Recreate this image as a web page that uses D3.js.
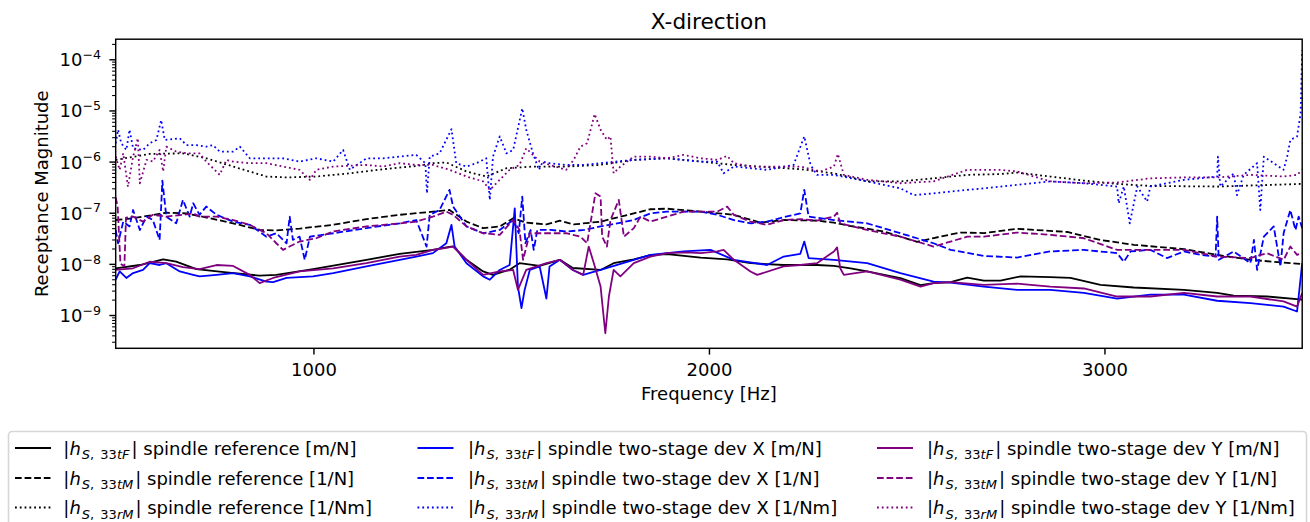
<!DOCTYPE html>
<html>
<head>
<meta charset="utf-8">
<script src="https://cdn.jsdelivr.net/npm/d3@7"></script>
<style>
  body { margin: 0; background: #fff; }
  text { font-family: 'DejaVu Sans', sans-serif; fill: #000; white-space: pre; }
</style>
</head>
<body>
<div id="chart"></div>
<script>
// ---- data: [frequency Hz, receptance] ----

var refTF = [[500, 8.2e-9], [561, 9.5e-9], [620, 1.23e-8], [653, 1.11e-8], [704, 7.9e-9], [780, 6.8e-9], [864, 5.9e-9], [906, 6.1e-9], [999, 7.9e-9], [1134, 1.2e-8], [1218, 1.57e-8], [1302, 1.88e-8], [1336, 2.1e-8], [1353, 2.2e-8], [1387, 1.2e-8], [1429, 7.1e-9], [1454, 6.1e-9], [1496, 7.7e-9], [1521, 1.03e-8], [1572, 9.1e-9], [1623, 1.2e-8], [1656, 8.3e-9], [1726, 7.6e-9], [1759, 1.03e-8], [1810, 1.22e-8], [1852, 1.48e-8], [1894, 1.55e-8], [1979, 1.33e-8], [2046, 1.22e-8], [2105, 1.03e-8], [2189, 9.5e-9], [2273, 9.5e-9], [2316, 9.1e-9], [2358, 8.2e-9], [2400, 7.1e-9], [2484, 5.25e-9], [2535, 3.83e-9], [2568, 4.2e-9], [2611, 4.4e-9], [2653, 5.4e-9], [2695, 4.7e-9], [2737, 4.7e-9], [2788, 5.7e-9], [2863, 5.5e-9], [2914, 5.3e-9], [2990, 3.9e-9], [3074, 3.45e-9], [3201, 3.1e-9], [3285, 2.7e-9], [3327, 2.4e-9], [3411, 2.3e-9], [3500, 2.0e-9]]

var refTM = [[500, 7.2e-8], [544, 7.8e-8], [628, 1.0e-7], [679, 9.7e-8], [738, 7.8e-8], [797, 6.2e-8], [864, 4.6e-8], [906, 4.5e-8], [965, 4.9e-8], [1050, 5.8e-8], [1134, 7.5e-8], [1218, 9.1e-8], [1302, 1.05e-7], [1344, 1.13e-7], [1387, 6.7e-8], [1429, 5.0e-8], [1471, 5.4e-8], [1505, 7.8e-8], [1538, 6.4e-8], [1589, 5.9e-8], [1623, 7.0e-8], [1658, 5.9e-8], [1726, 6.7e-8], [1810, 9.7e-8], [1852, 1.17e-7], [1894, 1.2e-7], [1979, 1.05e-7], [2063, 9.1e-8], [2130, 6.4e-8], [2189, 7.2e-8], [2273, 7.0e-8], [2316, 6.4e-8], [2358, 5.5e-8], [2442, 4.3e-8], [2526, 2.7e-8], [2568, 3.2e-8], [2636, 4.1e-8], [2695, 4.0e-8], [2779, 4.85e-8], [2906, 4.2e-8], [2990, 2.94e-8], [3074, 2.36e-8], [3201, 1.94e-8], [3285, 1.5e-8], [3369, 1.2e-8], [3500, 9.9e-9]]

var refRM = [[500, 1.08e-6], [586, 1.41e-6], [670, 1.45e-6], [729, 1.16e-6], [797, 8.0e-7], [881, 5.1e-7], [932, 4.9e-7], [1007, 5.1e-7], [1092, 5.9e-7], [1176, 7.1e-7], [1260, 8.2e-7], [1302, 9.3e-7], [1336, 9.6e-7], [1387, 6.4e-7], [1437, 5.1e-7], [1488, 7.4e-7], [1555, 8.0e-7], [1639, 8.0e-7], [1724, 8.6e-7], [1810, 1.08e-6], [1894, 1.16e-6], [1979, 1.0e-6], [2063, 8.6e-7], [2147, 7.8e-7], [2231, 7.1e-7], [2316, 5.9e-7], [2400, 4.1e-7], [2484, 4.1e-7], [2568, 4.7e-7], [2653, 5.5e-7], [2737, 5.7e-7], [2779, 6.1e-7], [2863, 5.1e-7], [2948, 4.25e-7], [3032, 3.66e-7], [3116, 3.34e-7], [3285, 3.25e-7], [3500, 3.66e-7]]

var devXTF = [[500, 4.9e-9], [510, 7.1e-9], [527, 5.3e-9], [544, 6.6e-9], [569, 7.6e-9], [586, 1.03e-8], [611, 9.5e-9], [628, 1.03e-8], [662, 7.1e-9], [696, 6.1e-9], [712, 5.7e-9], [755, 6.1e-9], [797, 6.6e-9], [839, 5.7e-9], [881, 4.5e-9], [898, 4.4e-9], [932, 5.3e-9], [999, 5.7e-9], [1050, 6.6e-9], [1134, 8.9e-9], [1218, 1.2e-8], [1260, 1.39e-8], [1302, 1.62e-8], [1336, 2.53e-8], [1349, 5.8e-8], [1357, 2.18e-8], [1387, 1.03e-8], [1429, 5.7e-9], [1446, 4.9e-9], [1471, 7.6e-9], [1496, 9.5e-9], [1509, 1.22e-7], [1517, 3.6e-9], [1526, 1.37e-9], [1534, 3.1e-9], [1547, 7.6e-9], [1572, 8.9e-9], [1589, 2.1e-9], [1597, 8.9e-9], [1623, 1.2e-8], [1656, 7.6e-9], [1682, 6.1e-9], [1726, 7.6e-9], [1810, 1.2e-8], [1852, 1.5e-8], [1894, 1.62e-8], [1936, 1.75e-8], [2004, 1.88e-8], [2063, 1.2e-8], [2147, 9.5e-9], [2189, 1.39e-8], [2231, 1.57e-8], [2241, 2.73e-8], [2252, 1.3e-8], [2316, 1.2e-8], [2400, 1.03e-8], [2484, 6.6e-9], [2568, 4.5e-9], [2611, 4.3e-9], [2695, 3.6e-9], [2779, 3.1e-9], [2863, 3.1e-9], [2948, 2.7e-9], [3032, 2.1e-9], [3116, 2.5e-9], [3201, 2.5e-9], [3285, 1.9e-9], [3369, 1.7e-9], [3453, 1.46e-9], [3487, 1.17e-9], [3500, 1.03e-8]]

var devXTM = [[500, 4.6e-8], [506, 2.53e-8], [519, 6.7e-8], [535, 5.4e-8], [544, 1.13e-7], [561, 4.6e-8], [578, 8.4e-8], [594, 7.2e-8], [611, 2.94e-8], [618, 4.25e-7], [628, 8.4e-8], [653, 6.2e-8], [670, 1.78e-7], [687, 8.4e-8], [696, 1.53e-7], [712, 9.1e-8], [729, 1.32e-7], [755, 9.1e-8], [797, 6.7e-8], [839, 5.8e-8], [881, 3.4e-8], [906, 3.97e-8], [932, 2.53e-8], [940, 8.4e-8], [948, 2.94e-8], [965, 3.4e-8], [978, 1.2e-8], [991, 3.4e-8], [1050, 3.97e-8], [1134, 5.0e-8], [1218, 6.2e-8], [1260, 7.2e-8], [1286, 2.18e-8], [1294, 9.1e-8], [1319, 1.13e-7], [1344, 2.8e-7], [1353, 1.32e-7], [1387, 5.4e-8], [1429, 3.97e-8], [1471, 4.6e-8], [1505, 7.2e-8], [1519, 3.97e-8], [1528, 2.07e-7], [1536, 2.53e-8], [1549, 4.6e-8], [1557, 1.88e-8], [1566, 4.6e-8], [1599, 4.6e-8], [1641, 4.3e-8], [1684, 4.6e-8], [1726, 5.4e-8], [1768, 6.2e-8], [1810, 7.2e-8], [1852, 9.7e-8], [1894, 1.05e-7], [1979, 1.05e-7], [2021, 9.1e-8], [2063, 7.2e-8], [2105, 6.2e-8], [2147, 6.7e-8], [2189, 8.2e-8], [2231, 9.7e-8], [2241, 2.8e-7], [2252, 8.4e-8], [2316, 7.2e-8], [2400, 6.2e-8], [2484, 3.97e-8], [2568, 2.53e-8], [2611, 1.88e-8], [2695, 1.43e-8], [2779, 1.33e-8], [2863, 1.75e-8], [2948, 1.88e-8], [3032, 1.62e-8], [3049, 1.1e-8], [3066, 1.75e-8], [3116, 1.88e-8], [3158, 1.3e-8], [3201, 1.75e-8], [3243, 1.5e-8], [3281, 1.39e-8], [3285, 8.4e-8], [3289, 1.2e-8], [3327, 1.75e-8], [3369, 1.03e-8], [3378, 2.94e-8], [3386, 7.6e-9], [3403, 3.4e-8], [3428, 5.4e-8], [3445, 8.9e-9], [3453, 3.97e-8], [3470, 1.13e-7], [3483, 4.6e-8], [3491, 8.4e-8], [3500, 5.0e-8]]

var devXRM = [[500, 2.28e-6], [506, 4.2e-6], [514, 2.28e-6], [527, 1.69e-6], [535, 4.2e-6], [544, 1.82e-6], [569, 1.69e-6], [586, 2.28e-6], [603, 2.65e-6], [615, 6.5e-6], [624, 2.65e-6], [662, 2.86e-6], [679, 2.1e-6], [704, 2.1e-6], [729, 1.96e-6], [746, 2.1e-6], [763, 1.57e-6], [797, 1.57e-6], [814, 1.96e-6], [839, 1.16e-6], [881, 1.16e-6], [923, 1.16e-6], [965, 1.0e-6], [1007, 1.16e-6], [1050, 1.0e-6], [1075, 1.69e-6], [1092, 6.9e-7], [1134, 1.16e-6], [1176, 1.16e-6], [1218, 1.25e-6], [1260, 1.35e-6], [1283, 9.3e-7], [1287, 2.4e-7], [1294, 1.25e-6], [1319, 1.45e-6], [1349, 4.3e-6], [1361, 9.3e-7], [1387, 8.0e-7], [1412, 9.3e-7], [1437, 1.16e-6], [1446, 1.78e-7], [1454, 1.25e-6], [1471, 3.1e-6], [1488, 1.45e-6], [1505, 1.69e-6], [1528, 1.1e-5], [1538, 4.2e-6], [1555, 1.45e-6], [1570, 6.9e-7], [1580, 1.0e-6], [1597, 9.3e-7], [1639, 8.6e-7], [1682, 8.6e-7], [1724, 9.3e-7], [1810, 1.08e-6], [1894, 1.16e-6], [1979, 1.0e-6], [2021, 1.0e-6], [2037, 5.9e-7], [2063, 8.0e-7], [2147, 6.9e-7], [2214, 8.6e-7], [2241, 3.1e-6], [2257, 8.6e-7], [2273, 5.5e-7], [2316, 5.5e-7], [2400, 4.1e-7], [2484, 3.0e-7], [2518, 2.2e-7], [2568, 2.4e-7], [2611, 2.6e-7], [2695, 3.0e-7], [2779, 3.5e-7], [2863, 4.1e-7], [2948, 3.77e-7], [3032, 3.25e-7], [3036, 1.53e-7], [3049, 3.25e-7], [3064, 6.2e-8], [3083, 3.25e-7], [3108, 1.65e-7], [3116, 3.25e-7], [3201, 4.4e-7], [3285, 5.1e-7], [3287, 1.25e-6], [3293, 3.25e-7], [3327, 5.9e-7], [3335, 2.2e-7], [3352, 5.5e-7], [3386, 9.3e-7], [3394, 1.13e-7], [3403, 1.25e-6], [3453, 6.9e-7], [3462, 1.25e-6], [3470, 2.65e-6], [3487, 3.1e-6], [3496, 8.8e-6], [3500, 1.5e-4]]

var devYTF = [[500, 7.6e-9], [544, 8.2e-9], [586, 1.1e-8], [628, 1.03e-8], [670, 8.6e-9], [712, 7.9e-9], [755, 9.5e-9], [797, 9.1e-9], [839, 6.1e-9], [864, 4.2e-9], [898, 5.3e-9], [965, 7.1e-9], [1050, 8.2e-9], [1134, 1.03e-8], [1218, 1.39e-8], [1260, 1.5e-8], [1302, 1.88e-8], [1328, 2.0e-8], [1353, 2.18e-8], [1387, 1.2e-8], [1429, 6.1e-9], [1471, 7.1e-9], [1505, 7.6e-9], [1517, 3.1e-9], [1538, 7.6e-9], [1589, 1.03e-8], [1623, 1.2e-8], [1656, 7.6e-9], [1682, 6.1e-9], [1696, 2.18e-8], [1709, 1.03e-8], [1726, 3.6e-9], [1738, 4.4e-10], [1747, 2.3e-9], [1759, 7.6e-9], [1776, 5.7e-9], [1810, 1.03e-8], [1852, 1.39e-8], [1894, 1.62e-8], [1945, 1.67e-8], [1979, 1.62e-8], [2021, 1.75e-8], [2037, 1.88e-8], [2063, 1.2e-8], [2105, 7.1e-9], [2122, 6.1e-9], [2189, 8.9e-9], [2231, 9.5e-9], [2273, 1.03e-8], [2316, 1.75e-8], [2324, 2.1e-8], [2332, 8.2e-9], [2341, 6.1e-9], [2400, 7.1e-9], [2484, 4.9e-9], [2535, 3.6e-9], [2568, 4.2e-9], [2611, 4.4e-9], [2695, 3.9e-9], [2779, 4.1e-9], [2863, 3.6e-9], [2948, 3.3e-9], [3032, 2.3e-9], [3116, 2.3e-9], [3201, 2.7e-9], [3285, 2.3e-9], [3369, 2.3e-9], [3453, 1.84e-9], [3487, 1.46e-9], [3500, 2.7e-9]]

var devYTM = [[500, 2.0e-7], [505, 1.3e-7], [512, 1.0e-8], [522, 9.0e-9], [526, 8.0e-8], [544, 8.4e-8], [569, 6.7e-8], [594, 9.1e-8], [628, 8.4e-8], [670, 9.1e-8], [696, 9.7e-8], [712, 8.4e-8], [755, 8.4e-8], [797, 7.2e-8], [839, 5.8e-8], [881, 3.97e-8], [906, 2.53e-8], [923, 1.88e-8], [965, 2.73e-8], [1007, 3.17e-8], [1050, 4.3e-8], [1134, 5.4e-8], [1218, 6.2e-8], [1260, 6.7e-8], [1302, 8.4e-8], [1336, 1.05e-7], [1353, 9.1e-8], [1387, 5.4e-8], [1429, 3.97e-8], [1471, 3.7e-8], [1505, 7.2e-8], [1521, 4.6e-8], [1530, 1.2e-8], [1547, 3.97e-8], [1597, 3.97e-8], [1639, 3.97e-8], [1675, 3.4e-8], [1692, 2.53e-8], [1713, 2.4e-7], [1726, 2.07e-7], [1730, 3.4e-8], [1742, 2.18e-8], [1751, 7.2e-8], [1772, 1.78e-7], [1785, 3.4e-8], [1810, 5.0e-8], [1827, 8.4e-8], [1852, 6.7e-8], [1894, 8.4e-8], [1936, 1.05e-7], [1979, 1.05e-7], [2021, 1.05e-7], [2046, 1.32e-7], [2063, 9.1e-8], [2105, 6.7e-8], [2147, 5.8e-8], [2189, 7.2e-8], [2231, 7.5e-8], [2273, 7.0e-8], [2316, 8.4e-8], [2324, 1.0e-7], [2332, 6.2e-8], [2400, 4.6e-8], [2484, 3.4e-8], [2568, 2.18e-8], [2653, 3.4e-8], [2695, 3.4e-8], [2779, 4.1e-8], [2863, 3.7e-8], [2948, 3.17e-8], [3032, 1.88e-8], [3116, 1.88e-8], [3201, 1.88e-8], [3285, 1.39e-8], [3369, 1.3e-8], [3411, 1.62e-8], [3453, 1.2e-8], [3470, 2.18e-8], [3487, 1.5e-8], [3500, 1.62e-8]]

var devYRM = [[500, 1.25e-6], [510, 6.9e-7], [519, 1.45e-6], [531, 3.25e-7], [544, 1.25e-6], [556, 2.86e-6], [561, 3.77e-7], [578, 1.08e-6], [594, 1.0e-6], [611, 1.69e-6], [620, 6.4e-7], [628, 1.96e-6], [653, 1.57e-6], [679, 1.45e-6], [712, 1.45e-6], [729, 1.0e-6], [763, 5.5e-7], [780, 1.08e-6], [797, 1.0e-6], [839, 9.3e-7], [881, 9.3e-7], [923, 8.0e-7], [965, 6.9e-7], [991, 4.4e-7], [1007, 6.9e-7], [1050, 8.0e-7], [1134, 8.6e-7], [1176, 8.0e-7], [1218, 9.3e-7], [1260, 8.6e-7], [1302, 8.6e-7], [1344, 6.9e-7], [1387, 5.1e-7], [1429, 4.1e-7], [1446, 2.8e-7], [1471, 4.4e-7], [1496, 6.9e-7], [1521, 8.6e-7], [1538, 1.82e-6], [1572, 1.0e-6], [1597, 8.6e-7], [1639, 6.9e-7], [1658, 1.08e-6], [1675, 1.96e-6], [1692, 2.28e-6], [1711, 8.5e-6], [1726, 4.2e-6], [1742, 2.65e-6], [1751, 3.1e-6], [1759, 5.9e-7], [1776, 8.0e-7], [1810, 1.25e-6], [1852, 1.25e-6], [1894, 1.16e-6], [1936, 1.35e-6], [1979, 1.16e-6], [2021, 1.08e-6], [2046, 1.29e-6], [2063, 9.3e-7], [2105, 8.0e-7], [2147, 8.0e-7], [2231, 8.0e-7], [2282, 6.4e-7], [2316, 8.0e-7], [2326, 1.41e-6], [2341, 5.5e-7], [2400, 4.4e-7], [2484, 3.77e-7], [2568, 4.1e-7], [2653, 6.9e-7], [2737, 6.9e-7], [2779, 6.4e-7], [2863, 4.1e-7], [2948, 3.77e-7], [3032, 3.9e-7], [3116, 4.7e-7], [3201, 4.9e-7], [3285, 4.9e-7], [3369, 5.5e-7], [3453, 5.1e-7], [3487, 5.5e-7], [3500, 6.9e-7]]

// ticks and legend text
var xTicks = [1000, 2000, 3000]
var yTickExps = [-9, -8, -7, -6, -5, -4]
var legendNames = ['spindle reference', 'spindle two-stage dev X', 'spindle two-stage dev Y']
var legendSubs = ['tF', 'tM', 'rM']
var legendUnits = ['[m/N]', '[1/N]', '[1/Nm]']

// one column per measurement, one row per quantity (same order as the legend)
var seriesData = [
  [refTF, refTM, refRM],
  [devXTF, devXTM, devXRM],
  [devYTF, devYTM, devYRM]
]

// ---- styles ----
var colors = ['#000000', '#0000ff', '#800080']
var dashes = [null, '6.7,2.9', '1.8,3']
var lineWidth = 1.8

// ---- set up ----
var margin = { top: 39.2, left: 115.7, right: 1310 - 1302.2, bottom: 522 - 348.3 }
var width = 1310 - margin.left - margin.right
var height = 522 - margin.top - margin.bottom

var svgRoot = d3
  .select('#chart')
  .append('svg')
  .attr('width', 1310)
  .attr('height', 522)

var svg = svgRoot
  .append('g')
  .attr('transform', 'translate(' + margin.left + ',' + margin.top + ')')

var xPositionScale = d3.scaleLinear().domain([500, 3500]).range([0, width])

var yPositionScale = d3
  .scaleLog()
  .domain([Math.pow(10, -9.651), Math.pow(10, -3.607)])
  .range([height, 0])

svg
  .append('clipPath')
  .attr('id', 'plot-clip')
  .append('rect')
  .attr('width', width)
  .attr('height', height)

var line = d3
  .line()
  .x(d => xPositionScale(d[0]))
  .y(d => yPositionScale(d[1]))

// ---- lines ----
var lines = svg.append('g').attr('clip-path', 'url(#plot-clip)')

seriesData.forEach((col, ci) => {
  col.forEach((series, ri) => {
    lines
      .append('path')
      .datum(series)
      .attr('d', line)
      .attr('fill', 'none')
      .attr('stroke', colors[ci])
      .attr('stroke-width', lineWidth)
      .attr('stroke-linejoin', 'round')
      .attr('stroke-dasharray', dashes[ri])
  })
})

// ---- axes ----
var xAxis = d3
  .axisBottom(xPositionScale)
  .tickValues(xTicks)
  .tickSize(6.3)
  .tickSizeOuter(0)
  .tickFormat(d3.format('d'))

var xg = svg
  .append('g')
  .attr('class', 'axis x-axis')
  .attr('transform', 'translate(0,' + height + ')')
  .call(xAxis)
xg.select('.domain').remove()
xg.selectAll('line').attr('stroke-width', 1.44)
xg.selectAll('text')
  .attr('y', 27.7)
  .attr('dy', null)
  .attr('font-size', 18)
  .attr('font-family', null)

var majorY = yTickExps.map(e => Math.pow(10, e))
var minorY = []
for (var e = -10; e <= -4; e++) {
  for (var k = 2; k <= 9; k++) {
    var v = k * Math.pow(10, e)
    if (v > yPositionScale.domain()[0] && v < yPositionScale.domain()[1]) minorY.push(v)
  }
}

var yMinor = svg
  .append('g')
  .attr('class', 'axis y-minor')
  .call(d3.axisLeft(yPositionScale).tickValues(minorY).tickSize(3.6).tickSizeOuter(0).tickFormat(''))
yMinor.select('.domain').remove()
yMinor.selectAll('line').attr('stroke-width', 1.08)

var yMajor = svg
  .append('g')
  .attr('class', 'axis y-axis')
  .call(d3.axisLeft(yPositionScale).tickValues(majorY).tickSize(6.3).tickSizeOuter(0).tickFormat(''))
yMajor.select('.domain').remove()
yMajor.selectAll('line').attr('stroke-width', 1.44)

// 10^n labels
yTickExps.forEach(e => {
  var t = svg
    .append('text')
    .attr('x', -14.7)
    .attr('y', yPositionScale(Math.pow(10, e)) + 7)
    .attr('text-anchor', 'end')
    .attr('font-size', 18)
  t.append('tspan').text('10')
  t.append('tspan')
    .attr('font-size', 12.6)
    .attr('dy', -7.3)
    .text('\u2212' + Math.abs(e))
})

// frame
svg
  .append('rect')
  .attr('width', width)
  .attr('height', height)
  .attr('fill', 'none')
  .attr('stroke', '#000')
  .attr('stroke-width', 1.44)

// ---- titles ----
svg
  .append('text')
  .text('X-direction')
  .attr('x', width / 2)
  .attr('y', 29.3 - margin.top)
  .attr('text-anchor', 'middle')
  .attr('font-size', 21.6)

svg
  .append('text')
  .text('Frequency [Hz]')
  .attr('x', width / 2)
  .attr('y', 400 - margin.top)
  .attr('text-anchor', 'middle')
  .attr('font-size', 18)

svgRoot
  .append('text')
  .text('Receptance Magnitude')
  .attr('transform', 'translate(48,' + (margin.top + height / 2) + ') rotate(-90)')
  .attr('text-anchor', 'middle')
  .attr('font-size', 18)

// ---- legend ----
var legend = svgRoot.append('g').attr('class', 'legend')

legend
  .append('rect')
  .attr('x', 8.5)
  .attr('y', 431.5)
  .attr('width', 1298)
  .attr('height', 110)
  .attr('rx', 3.6)
  .attr('fill', '#fff')
  .attr('stroke', '#d6d6d6')
  .attr('stroke-width', 1.6)

var colHandleX = [15, 417.5, 877]
var colTextX = [63.3, 468, 927]
var rowBase = [454.5, 484.5, 514]

legendNames.forEach((name, ci) => {
  legendSubs.forEach((sub, ri) => {
    var by = rowBase[ri]
    legend
      .append('line')
      .attr('x1', colHandleX[ci])
      .attr('x2', colHandleX[ci] + 36)
      .attr('y1', by - 6.5)
      .attr('y2', by - 6.5)
      .attr('stroke', colors[ci])
      .attr('stroke-width', lineWidth)
      .attr('stroke-dasharray', dashes[ri])

    var t = legend
      .append('text')
      .attr('x', colTextX[ci])
      .attr('y', by)
      .attr('font-size', 18)
    t.append('tspan').text('|')
    t.append('tspan').attr('font-style', 'italic').text('h')
    t.append('tspan').attr('font-size', 13).attr('dy', 4.5).attr('dx', 1).attr('font-style', 'italic').text('S')
    t.append('tspan').attr('font-size', 13).text(', ')
    t.append('tspan').attr('font-size', 13).attr('dx', 2).text('33')
    t.append('tspan').attr('font-size', 13).attr('font-style', 'italic').text(sub)
    t.append('tspan').attr('dy', -4.5).attr('dx', 2).text('|')
    t.append('tspan').text(' ' + name + ' ' + legendUnits[ri])
  })
})
</script>
</body>
</html>
